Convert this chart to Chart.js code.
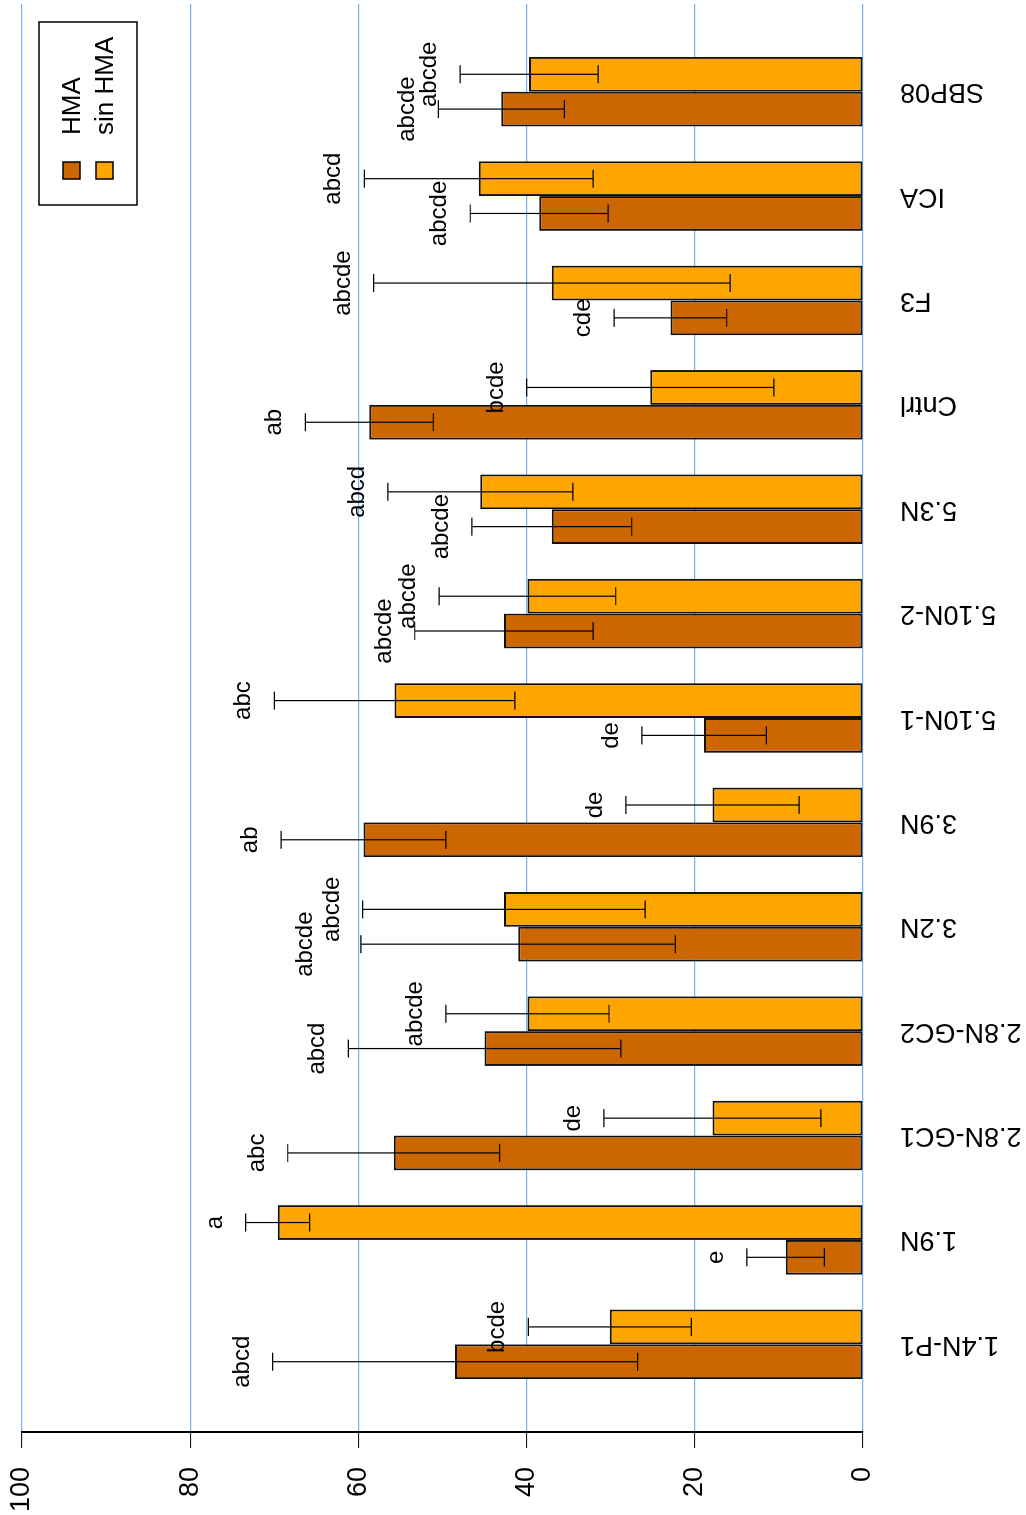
<!DOCTYPE html>
<html>
<head>
<meta charset="utf-8">
<script src="https://cdn.jsdelivr.net/npm/chart.js@4.4.1/dist/chart.umd.min.js"></script>
<style>
  html, body { margin: 0; padding: 0; background: #fff; overflow: hidden; }
  /* the plot is laid out upright, then turned a quarter turn to the left */
  #wrap { position: absolute; left: 0; top: 0; width: 1515px; height: 1026px;
          transform-origin: 0 0; transform: translate(0, 1515px) rotate(-90deg); }
</style>
</head>
<body>
<div id="wrap"><canvas id="chart" width="1515" height="1026"></canvas></div>
<script>
const categories = ["1.4N-P1","1.9N","2.8N-GC1","2.8N-GC2","3.2N","3.9N","5.10N-1","5.10N-2","5.3N","Cntrl","F3","ICA","SBP08"];

const hma        = [48.5, 9.2, 55.8, 45.0, 41.0, 59.4, 18.9, 42.7, 37.0, 58.7, 22.9, 38.5, 43.0];
const hmaErr     = [21.7, 4.6, 12.6, 16.2, 18.7, 9.8, 7.4, 10.6, 9.5, 7.6, 6.7, 8.2, 7.5];
const hmaLetters = ["abcd","e","abc","abcd","abcde","ab","de","abcde","abcde","ab","cde","abcde","abcde"];

const sinHma        = [30.1, 69.6, 17.9, 39.9, 42.7, 17.9, 55.7, 39.9, 45.5, 25.3, 37.0, 45.7, 39.7];
const sinHmaErr     = [9.7, 3.8, 12.9, 9.7, 16.8, 10.3, 14.3, 10.5, 11.0, 14.7, 21.2, 13.6, 8.2];
const sinHmaLetters = ["bcde","a","de","abcde","abcde","de","abc","abcde","abcd","bcde","abcde","abcd","abcde"];

const yTicks = [0, 20, 40, 60, 80, 100];

const FONT = '"Liberation Sans", Arial, Helvetica, sans-serif';

// error bars (mean +/- sd) and the significance letters above them
const errorBars = {
    id: 'errorBars',
    afterDatasetsDraw(chart) {
        const ctx = chart.ctx;
        const y = chart.scales.y;
        const labels = [];
        ctx.save();
        ctx.strokeStyle = '#000';
        ctx.lineWidth = 1.2;
        ctx.font = '24px ' + FONT;
        chart.data.datasets.forEach((ds, di) => {
            const meta = chart.getDatasetMeta(di);
            meta.data.forEach((bar, i) => {
                const v = ds.data[i].y, e = ds.err[i];
                const top = y.getPixelForValue(v + e);
                const bot = y.getPixelForValue(v - e);
                ctx.beginPath();
                ctx.moveTo(bar.x, top); ctx.lineTo(bar.x, bot);
                ctx.moveTo(bar.x - 9, top); ctx.lineTo(bar.x + 9, top);
                ctx.moveTo(bar.x - 9, bot); ctx.lineTo(bar.x + 9, bot);
                ctx.stroke();
                labels.push({ text: ds.letters[i], x: bar.x, y: top - 24, w: ctx.measureText(ds.letters[i]).width, cat: i, di: di });
            });
        });
        // lift the left label of a pair when the two would sit on top of each other
        categories.forEach((c, i) => {
            const a = labels.find(l => l.cat === i && l.di === 0);
            const b = labels.find(l => l.cat === i && l.di === 1);
            if (!a || !b) return;
            const xOverlap = Math.abs(a.x - b.x) < (a.w + b.w) / 2;
            if (xOverlap && Math.abs(a.y - b.y) < 12) a.y = Math.min(a.y, b.y) - 25;
        });
        ctx.fillStyle = '#000';
        ctx.textAlign = 'center';
        ctx.textBaseline = 'alphabetic';
        labels.forEach(l => ctx.fillText(l.text, l.x, l.y));
        ctx.restore();
    }
};

// framed legend in the top right corner of the plot
const boxLegend = {
    id: 'boxLegend',
    afterDraw(chart) {
        const ctx = chart.ctx;
        const area = chart.chartArea;
        const left = area.right - 201, top = area.top + 17;
        ctx.save();
        ctx.strokeStyle = '#000';
        ctx.lineWidth = 1.5;
        ctx.strokeRect(left, top, 183, 98);
        ctx.font = '26px ' + FONT;
        ctx.textAlign = 'left';
        ctx.textBaseline = 'alphabetic';
        chart.data.datasets.forEach((ds, i) => {
            const sy = top + 24 + i * 33;
            ctx.fillStyle = ds.backgroundColor;
            ctx.fillRect(left + 26, sy, 17, 17);
            ctx.lineWidth = 1.5;
            ctx.strokeRect(left + 26, sy, 17, 17);
            ctx.fillStyle = '#000';
            ctx.fillText(ds.label, left + 70, sy + 17);
        });
        ctx.restore();
    }
};

new Chart(document.getElementById('chart'), {
    type: 'bar',
    data: {
        datasets: [{
            label: 'HMA',
            data: categories.map((c, i) => ({x: i, y: hma[i]})),
            err: hmaErr,
            letters: hmaLetters,
            backgroundColor: '#cc6600',
            borderColor: '#111',
            borderWidth: 2,
            borderSkipped: false,
            categoryPercentage: 2 / 3,
            barPercentage: 1
        }, {
            label: 'sin HMA',
            data: categories.map((c, i) => ({x: i, y: sinHma[i]})),
            err: sinHmaErr,
            letters: sinHmaLetters,
            backgroundColor: '#ffa500',
            borderColor: '#111',
            borderWidth: 2,
            borderSkipped: false,
            categoryPercentage: 2 / 3,
            barPercentage: 1
        }]
    },
    options: {
        responsive: false,
        animation: false,
        devicePixelRatio: 1,
        layout: { padding: { top: 22, right: 4, left: 0, bottom: 0 } },
        plugins: { legend: { display: false }, tooltip: { enabled: false } },
        scales: {
            x: {
                type: 'linear',
                min: -0.84,
                max: 12.84,
                offset: false,
                grid: { display: false, drawTicks: false },
                border: { display: false },
                afterBuildTicks: s => { s.ticks = categories.map((c, i) => ({value: i})); },
                afterFit: s => { s.height = 163; s.paddingLeft = 0; s.paddingRight = 0; },
                ticks: {
                    autoSkip: false,
                    minRotation: 90,
                    maxRotation: 90,
                    padding: 37,
                    color: '#000',
                    font: { size: 27, family: FONT },
                    callback: v => categories[Math.round(v)]
                }
            },
            y: {
                min: 0,
                max: 100,
                afterBuildTicks: s => { s.ticks = yTicks.map(v => ({value: v})); },
                afterFit: s => { s.width = 83; s.paddingTop = 0; s.paddingBottom = 0; },
                grid: { color: '#79b6f2', lineWidth: 1.2, tickLength: 16, tickColor: '#000', tickWidth: 1 },
                border: { color: '#000', width: 2 },
                ticks: { padding: 19, color: '#000', font: { size: 27, family: FONT } }
            }
        }
    },
    plugins: [errorBars, boxLegend]
});
</script>
</body>
</html>
